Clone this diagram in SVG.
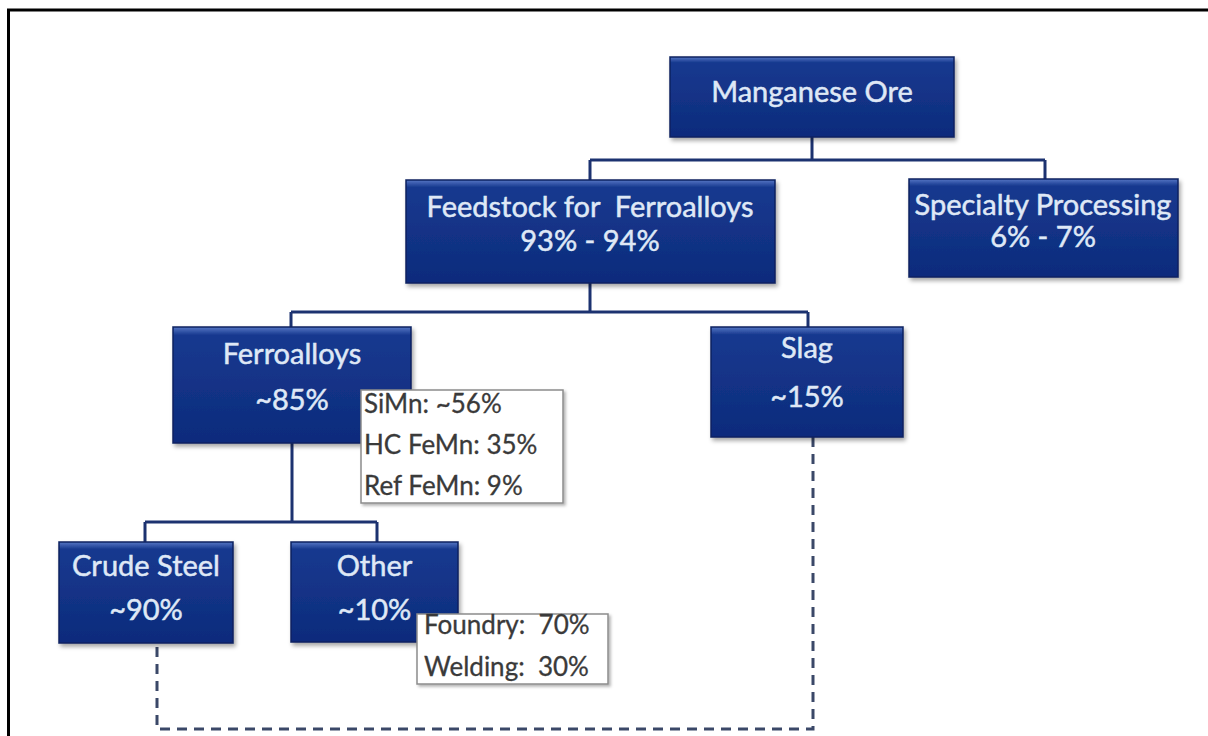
<svg xmlns="http://www.w3.org/2000/svg" width="1208" height="736" viewBox="0 0 1208 736">
<style>
.node{fill:url(#nodeGrad);stroke:#0a2160;stroke-width:1.5;filter:url(#shadow)}
.nt{font-family:Lato,"Liberation Sans",sans-serif;font-size:29px;fill:#dfe8f6;stroke:#dfe8f6;stroke-width:0.5;text-anchor:middle}
.note{fill:#ffffff;stroke:#8c8c8c;stroke-width:1.5;filter:url(#shadow2)}
.lt{font-family:Lato,"Liberation Sans",sans-serif;font-size:26px;fill:#3a3a3a;stroke:#3a3a3a;stroke-width:0.3}
.conn{fill:none;stroke:#1c3270;stroke-width:3}
.dash{fill:none;stroke:#3b4868;stroke-width:3;stroke-dasharray:10 7}
</style>
<defs>
<linearGradient id="nodeGrad" x1="0" y1="0" x2="0" y2="1">
<stop offset="0" stop-color="#5576c4"/>
<stop offset="0.07" stop-color="#17398f"/>
<stop offset="1" stop-color="#0d2b7c"/>
</linearGradient>
<filter id="shadow" x="-10%" y="-10%" width="125%" height="130%">
<feDropShadow dx="2" dy="3" stdDeviation="2" flood-color="#000" flood-opacity="0.35"/>
</filter>
<filter id="shadow2" x="-10%" y="-10%" width="125%" height="130%">
<feDropShadow dx="2" dy="2" stdDeviation="1.5" flood-color="#000" flood-opacity="0.3"/>
</filter>
</defs>
<rect width="1208" height="736" fill="#ffffff"/>
<path d="M8.5,736 V10 H1208" fill="none" stroke="#000" stroke-width="3"/>

<g id="connectors">
<path class="conn" d="M812,137 V160 M590,160 H1045 M590,160 V180 M1045,160 V179"/>
<path class="conn" d="M590,283 V312 M291,312 H808 M291,312 V327 M808,312 V327"/>
<path class="conn" d="M292,443 V522 M145,522 H377 M145,522 V542 M377,522 V542"/>
<path class="dash" d="M813,437 V729 H157 V643"/>
</g>

<g id="manganese-ore">
<rect class="node" x="670" y="57" width="284" height="80"/>
<text class="nt" x="812" y="102">Manganese Ore</text>
</g>
<g id="feedstock">
<rect class="node" x="406" y="180" width="369" height="103"/>
<text class="nt" x="590" y="217" xml:space="preserve">Feedstock for  Ferroalloys</text>
<text class="nt" x="590" y="251">93% - 94%</text>
</g>
<g id="specialty">
<rect class="node" x="909" y="179" width="269" height="98"/>
<text class="nt" x="1043" y="215">Specialty Processing</text>
<text class="nt" x="1043" y="247">6% - 7%</text>
</g>
<g id="ferroalloys">
<rect class="node" x="173" y="327" width="238" height="116"/>
<text class="nt" x="292" y="364">Ferroalloys</text>
<text class="nt" x="292" y="410">~85%</text>
</g>
<g id="slag">
<rect class="node" x="711" y="327" width="192" height="110"/>
<text class="nt" x="807" y="358">Slag</text>
<text class="nt" x="807" y="407">~15%</text>
</g>
<g id="ferroalloy-split">
<rect class="note" x="361" y="390" width="202" height="113"/>
<text class="lt" x="364" y="413">SiMn: ~56%</text>
<text class="lt" x="364" y="454">HC FeMn: 35%</text>
<text class="lt" x="364" y="495">Ref FeMn: 9%</text>
</g>
<g id="crude-steel">
<rect class="node" x="59" y="542" width="174" height="101"/>
<text class="nt" x="146" y="576">Crude Steel</text>
<text class="nt" x="146" y="620">~90%</text>
</g>
<g id="other">
<rect class="node" x="291" y="542" width="167" height="100"/>
<text class="nt" x="374.5" y="576">Other</text>
<text class="nt" x="374.5" y="620">~10%</text>
</g>
<g id="other-split">
<rect class="note" x="417" y="614" width="191" height="70"/>
<text class="lt" x="424" y="634" xml:space="preserve">Foundry:  70%</text>
<text class="lt" x="424" y="676" xml:space="preserve">Welding:  30%</text>
</g>
</svg>
